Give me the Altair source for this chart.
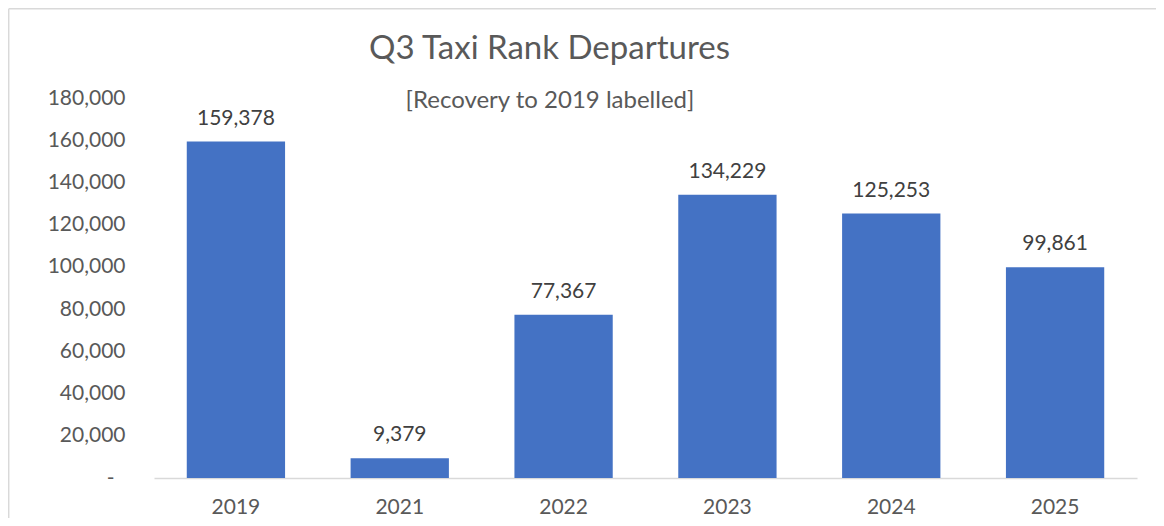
import altair as alt
import pandas as pd

years = ["2019", "2021", "2022", "2023", "2024", "2025"]
departures = [159378, 9379, 77367, 134229, 125253, 99861]
y_ticks = [0, 20000, 40000, 60000, 80000, 100000, 120000, 140000, 160000, 180000]
title_text = "Q3 Taxi Rank Departures"
subtitle_text = "[Recovery to 2019 labelled]"

FONT = "Lato"
BAR = "#4472C4"
AXIS_TXT = "#595959"
DATA_TXT = "#404040"
LINE = "#D9D9D9"

df = pd.DataFrame({"year": years, "departures": departures})

x_enc = alt.X(
    "year:N", sort=years, title=None,
    scale=alt.Scale(paddingInner=0.4, paddingOuter=0.2),
    axis=alt.Axis(labelAngle=0, ticks=False, domainColor=LINE, domainWidth=1.3,
                  labelColor=AXIS_TXT, labelFontSize=21, labelFont=FONT,
                  labelPadding=35, labelBaseline="alphabetic"),
)
y_enc = alt.Y(
    "departures:Q", title=None,
    scale=alt.Scale(domain=[0, 180000], nice=False),
    axis=alt.Axis(values=y_ticks, domain=False, ticks=False, grid=False,
                  labelExpr="datum.value == 0 ? '-' : format(datum.value, ',')",
                  labelColor=AXIS_TXT, labelFontSize=21, labelFont=FONT,
                  labelPadding={"condition": {"test": "datum.value == 0", "value": 40}, "value": 29}),
)

base = alt.Chart(df)
bars = base.mark_bar(color=BAR).encode(x=x_enc, y=y_enc)
labels = base.mark_text(baseline="alphabetic", dy=-17, fontSize=21, font=FONT, color=DATA_TXT).encode(
    x=x_enc, y=y_enc, text=alt.Text("departures:Q", format=",")
)

title = alt.Chart(pd.DataFrame({"t": [title_text]})).mark_text(
    font=FONT, fontSize=33, color=AXIS_TXT, align="center", baseline="alphabetic"
).encode(text="t:N", x=alt.value(395.5), y=alt.value(-38.7))

subtitle = alt.Chart(pd.DataFrame({"t": [subtitle_text]})).mark_text(
    font=FONT, fontSize=24, color=AXIS_TXT, align="center", baseline="alphabetic"
).encode(text="t:N", x=alt.value(396), y=alt.value(10))

frame_v = alt.Chart(pd.DataFrame({"t": [0]})).mark_rule(color=LINE, strokeWidth=1.5).encode(
    x=alt.value(-145.3), y=alt.value(-89.3), y2=alt.value(500)
)
frame_h = alt.Chart(pd.DataFrame({"t": [0]})).mark_rule(color=LINE, strokeWidth=1.5).encode(
    x=alt.value(-145.3), x2=alt.value(1100), y=alt.value(-89.3)
)

chart = alt.layer(frame_v, frame_h, bars, labels, title, subtitle).properties(
    width=983, height=380,
    autosize=alt.AutoSizeParams(type="none"),
    padding={"left": 146, "top": 90, "right": 19, "bottom": 40},
).configure(background="white").configure_view(stroke="transparent", strokeWidth=0)

chart.save("out.html", embed_options={"renderer": "svg", "actions": False})
